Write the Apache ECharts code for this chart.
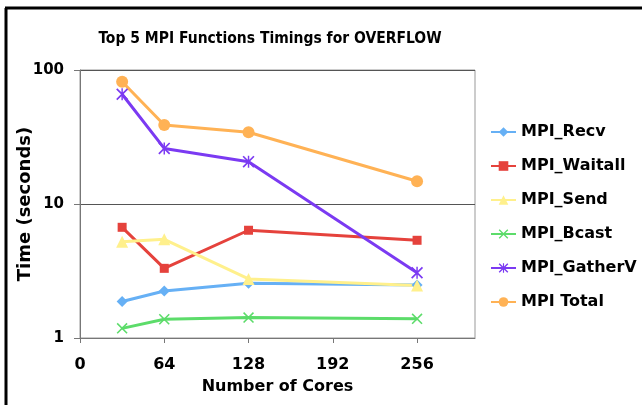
<!DOCTYPE html>
<html><head><meta charset="utf-8">
<script src="https://cdn.jsdelivr.net/npm/echarts@6/dist/echarts.min.js"></script>
<style>html,body{margin:0;padding:0;background:#fff}#c{width:642px;height:405px}</style>
</head><body><div id="c"></div>
<script>
const cores = [32, 64, 128, 256];
const xTicks = [0, 64, 128, 192, 256];
const recv = [1.87, 2.24, 2.56, 2.49];
const waitall = [6.7, 3.31, 6.37, 5.36];
const send = [5.23, 5.45, 2.76, 2.46];
const bcast = [1.18, 1.38, 1.42, 1.39];
const gatherv = [65.9, 26.0, 20.7, 3.07];
const total = [81.8, 38.9, 34.3, 14.8];

const FONT = '"DejaVu Sans", Verdana, sans-serif';
const FONT_C = '"DejaVu Sans Condensed", "DejaVu Sans", sans-serif';
const X_SYM = 'path://M0,1 L1,0 L10,9 L9,10 Z M9,0 L10,1 L1,10 L0,9 Z';
const AST_SYM = 'path://M0,1 L1,0 L10,9 L9,10 Z M9,0 L10,1 L1,10 L0,9 Z M4.4,0 L5.6,0 L5.6,10 L4.4,10 Z';

function pts(vals){ return cores.map((c,i)=>[c, vals[i]]); }
function mk(name, vals, color, symbol, size){
  return {name, type:'line', data:pts(vals), symbol, symbolSize:size,
    lineStyle:{color, width:3}, itemStyle:{color}, emphasis:{disabled:true}, z: 3};
}

const chart = echarts.init(document.getElementById('c'), null, {renderer:'canvas'});
chart.setOption({
  animation:false,
  backgroundColor:'#fff',
  title:{text:'Top 5 MPI Functions Timings for OVERFLOW', left:265, textAlign:'center', top:26,
    textStyle:{fontFamily:FONT_C, fontSize:15.5, fontWeight:'bold', color:'#000'}},
  grid:{left:80, top:70, right:167, bottom:67, show:true, borderColor:'#999', borderWidth:1,
    containLabel:false, outerBoundsMode:'none'},
  legend:{orient:'vertical', left:485, top:119, itemGap:18, itemWidth:25, itemHeight:12,
    textStyle:{fontFamily:FONT, fontSize:16, fontWeight:'bold', color:'#000'},
    data:['MPI_Recv','MPI_Waitall','MPI_Send','MPI_Bcast','MPI_GatherV','MPI Total']},
  xAxis:{type:'value', min:0, max:300, interval:64,
    name:'Number of Cores', nameLocation:'middle', nameGap:41, nameMoveOverlap:false,
    nameTextStyle:{fontFamily:FONT, fontSize:16, fontWeight:'bold', color:'#000'},
    axisLine:{lineStyle:{color:'#777', width:1}},
    axisTick:{show:true, length:5, lineStyle:{color:'#777'}},
    axisLabel:{fontFamily:FONT, fontSize:16, fontWeight:'bold', color:'#000', margin:19, showMaxLabel:false,
      formatter:v=>xTicks.includes(v)?String(v):''},
    splitLine:{show:false}},
  yAxis:{type:'log', logBase:10, min:1, max:100,
    name:'Time (seconds)', nameLocation:'middle', nameGap:46, nameRotate:90, nameMoveOverlap:false,
    nameTextStyle:{fontFamily:FONT, fontSize:18, fontWeight:'bold', color:'#000'},
    axisLine:{show:true, lineStyle:{color:'#777', width:1}},
    axisTick:{show:true, length:6, lineStyle:{color:'#777'}},
    axisLabel:{fontFamily:FONT, fontSize:15, fontWeight:'bold', color:'#000', margin:16},
    splitLine:{show:true, lineStyle:{color:'#555', width:1}},
    minorTick:{show:false}},
  graphic:[
    {type:'line', shape:{x1:6, y1:8, x2:6, y2:405}, style:{stroke:'#000', lineWidth:3}},
    {type:'line', shape:{x1:5, y1:8, x2:642, y2:8}, style:{stroke:'#000', lineWidth:3}}
  ],
  series:[
    mk('MPI_Recv', recv, '#66B0F5', 'diamond', 11),
    mk('MPI_Waitall', waitall, '#E5423C', 'rect', 9),
    mk('MPI_Send', send, '#FFF08C', 'triangle', 12),
    mk('MPI_Bcast', bcast, '#5CDC6A', X_SYM, 11),
    mk('MPI_GatherV', gatherv, '#7B3AF2', AST_SYM, 12),
    mk('MPI Total', total, '#FFB255', 'circle', 12)
  ]
});
</script></body></html>
